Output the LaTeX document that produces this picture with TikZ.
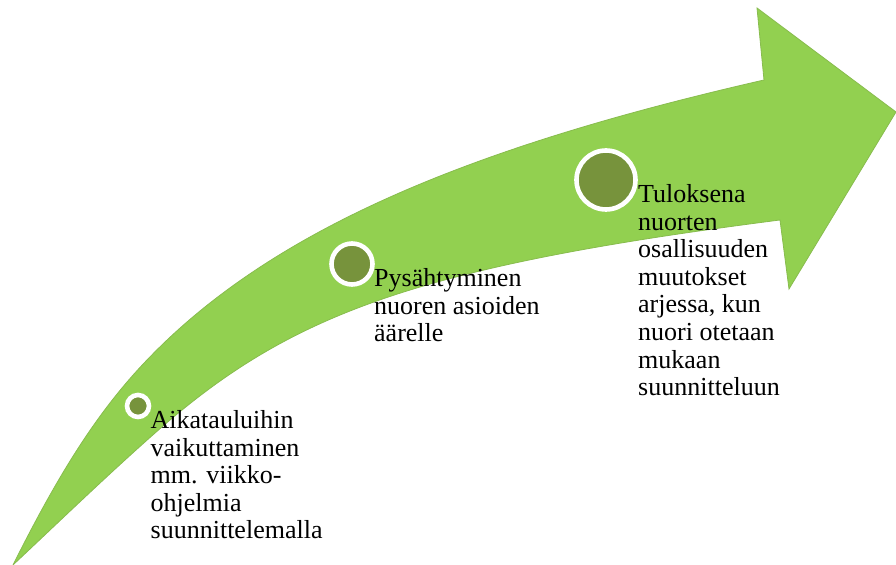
\documentclass[tikz,border=0pt]{standalone}
\usepackage{fontspec}
\setmainfont{Liberation Serif}
\usetikzlibrary{positioning}
\definecolor{arrowgreen}{RGB}{146,208,80}
\definecolor{arrowedge}{RGB}{136,188,78}
\definecolor{dotgreen}{RGB}{119,147,60}

\begin{document}
\begin{tikzpicture}[x=0.5pt, y=-0.5pt,
    dot/.style={circle, draw=white, line width=2.3pt, fill=dotgreen, inner sep=0pt},
    txt/.style={align=left, inner sep=0pt, font=\fontsize{13}{13.8}\selectfont}]
    \useasboundingbox (0,0) rectangle (896,565);

    \filldraw[fill=arrowgreen, draw=arrowedge, line width=0.4pt]
        (13,565) .. controls (58,475) and (97,412) .. (147,360)
        .. controls (277,224) and (484,144) .. (764,80)
        -- (757,8) -- (896,112) -- (789,289) -- (780,220)
        .. controls (430,265) and (300,310) .. (170,420)
        .. controls (120,463) and (63,518) .. (13,565)
        -- cycle;

    \node[dot, minimum size=11pt] (step1) at (138,406) {};
    \node[dot, minimum size=20.5pt] (step2) at (352,264) {};
    \node[dot, minimum size=29.5pt] (step3) at (606,180) {};

    \node[txt, below right=2pt and -0.5pt of step1.east] (text1) {Aikatauluihin\\vaikuttaminen\\mm. viikko-\\ohjelmia\\suunnittelemalla};
    \node[txt, below right=2pt and -0.5pt of step2.east] (text2) {Pysähtyminen\\nuoren asioiden\\äärelle};
    \node[txt, below right=2pt and 0pt of step3.east] (text3) {Tuloksena\\nuorten\\osallisuuden\\muutokset\\arjessa, kun\\nuori otetaan\\mukaan\\suunnitteluun};
\end{tikzpicture}
\end{document}
